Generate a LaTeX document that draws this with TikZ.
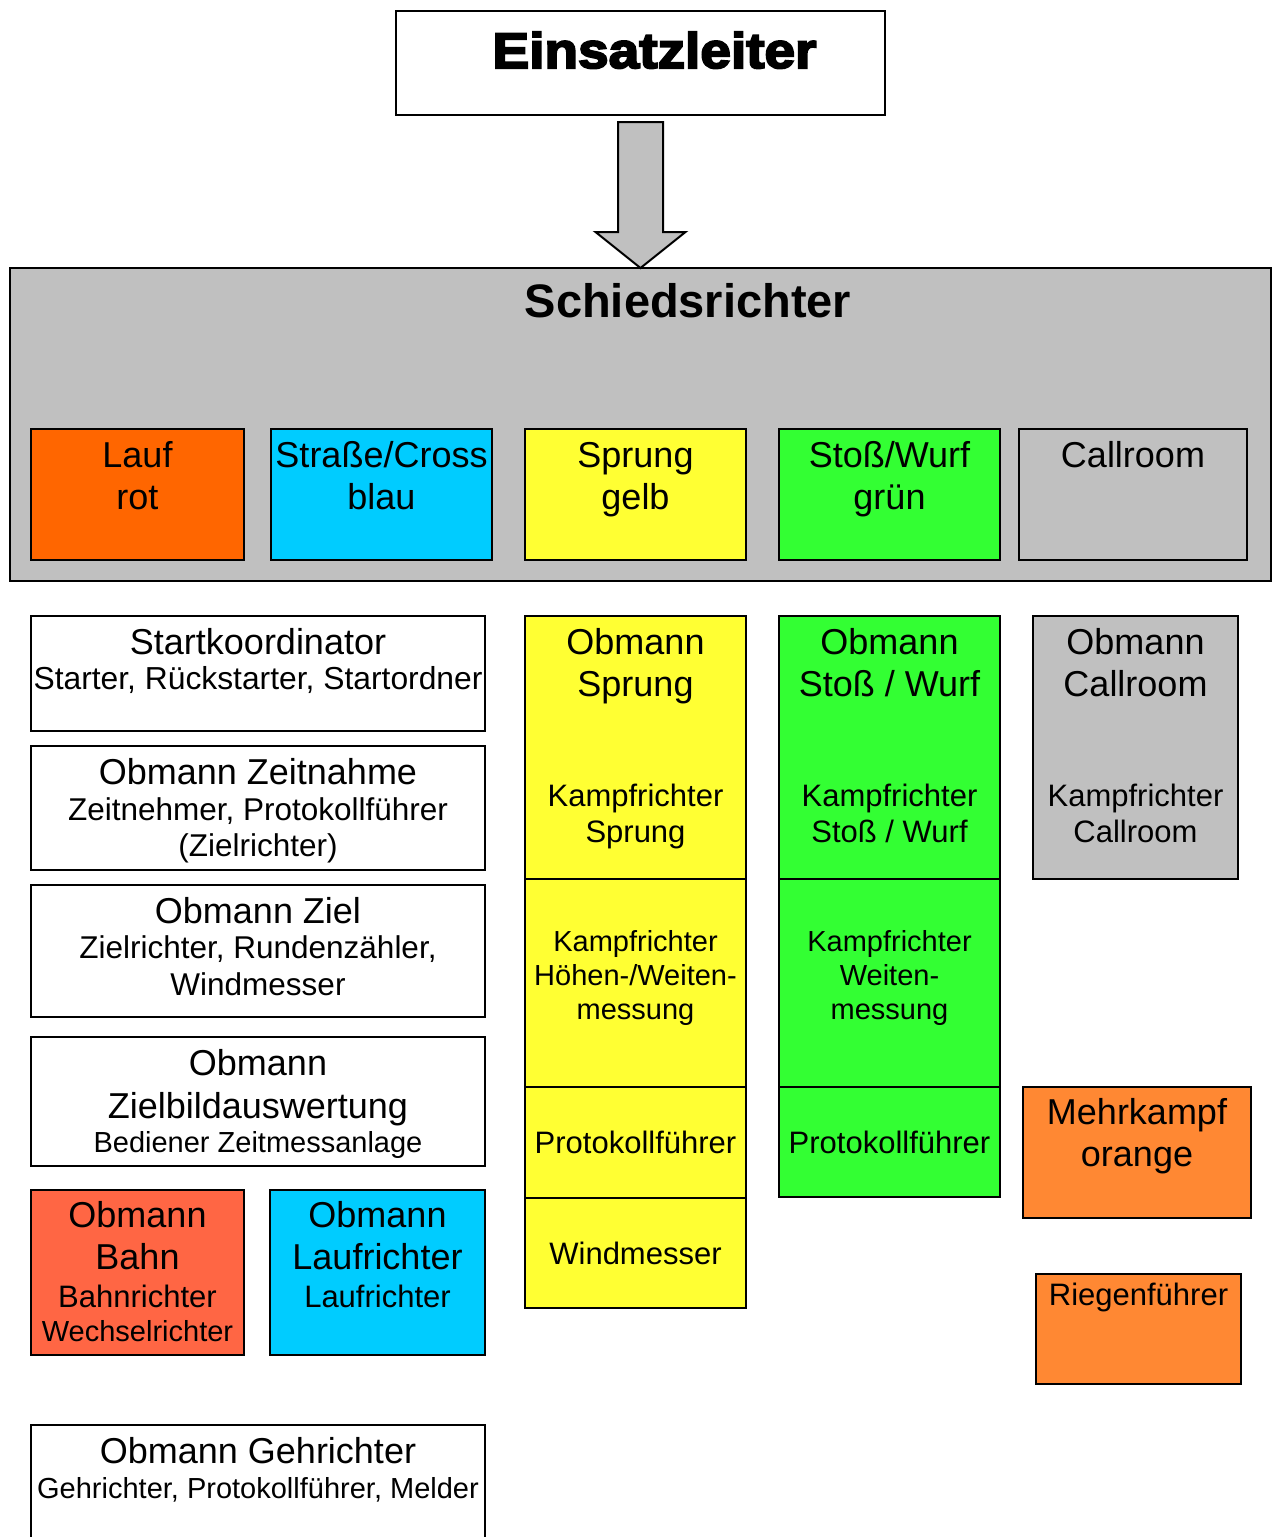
\documentclass[tikz,border=0pt]{standalone}
\usepackage{fontspec}
\setmainfont{Liberation Sans}
\newfontfamily\heavyfont[FakeBold=4,FakeStretch=1.1]{Liberation Sans Bold}
\usepackage{tikz}
\definecolor{grau}{HTML}{C0C0C0}
\definecolor{rot}{HTML}{FF6600}
\definecolor{blau}{HTML}{00CCFF}
\definecolor{gelb}{HTML}{FFFF33}
\definecolor{gruen}{HTML}{33FF33}
\definecolor{bahnrot}{HTML}{FF6644}
\definecolor{mkorange}{HTML}{FF8833}
\tikzstyle{box} = [rectangle, anchor=north west, inner sep=0pt, outer sep=0pt, draw=black, line width=2pt]
\tikzstyle{head} = [anchor=base, align=center, inner sep=0pt, font=\fontsize{36}{42}\selectfont]
\tikzstyle{mid} = [anchor=base, align=center, inner sep=0pt, font=\fontsize{31}{36}\selectfont]
\tikzstyle{sub} = [anchor=base, align=center, inner sep=0pt, font=\fontsize{29}{34}\selectfont]
\tikzstyle{blockarrow} = [draw=black, line width=2pt, fill=grau, line join=miter]

\begin{document}
\begin{tikzpicture}[x=1pt,y=-1pt]
\useasboundingbox (0,0) rectangle (1274,1537);
\node (einsatz) [box, fill=white, minimum width=489pt, minimum height=104pt] at (396,11) {};
\node (schied) [box, fill=grau, minimum width=1261pt, minimum height=313pt] at (10,268) {};
\node (lauf) [box, fill=rot, minimum width=213pt, minimum height=131pt] at (31,429) {};
\node (strasse) [box, fill=blau, minimum width=221pt, minimum height=131pt] at (271,429) {};
\node (sprung) [box, fill=gelb, minimum width=221pt, minimum height=131pt] at (525,429) {};
\node (stoss) [box, fill=gruen, minimum width=221pt, minimum height=131pt] at (779,429) {};
\node (callroom) [box, fill=grau, minimum width=228pt, minimum height=131pt] at (1019,429) {};

\node (start) [box, fill=white, minimum width=454pt, minimum height=115pt] at (31,616) {};
\node (zeitnahme) [box, fill=white, minimum width=454pt, minimum height=124pt] at (31,746) {};
\node (ziel) [box, fill=white, minimum width=454pt, minimum height=132pt] at (31,885) {};
\node (zielbild) [box, fill=white, minimum width=454pt, minimum height=129pt] at (31,1037) {};
\node (bahn) [box, fill=bahnrot, minimum width=213pt, minimum height=165pt] at (31,1190) {};
\node (laufri) [box, fill=blau, minimum width=215pt, minimum height=165pt] at (270,1190) {};
\node (geh) [box, fill=white, minimum width=454pt, minimum height=130pt] at (31,1425) {};

\node (obSprung) [box, fill=gelb, minimum width=221pt, minimum height=263pt] at (525,616) {};
\node (hwSprung) [box, fill=gelb, minimum width=221pt, minimum height=208pt] at (525,879) {};
\node (protSprung) [box, fill=gelb, minimum width=221pt, minimum height=111pt] at (525,1087) {};
\node (windSprung) [box, fill=gelb, minimum width=221pt, minimum height=110pt] at (525,1198) {};
\node (obStoss) [box, fill=gruen, minimum width=221pt, minimum height=263pt] at (779,616) {};
\node (wStoss) [box, fill=gruen, minimum width=221pt, minimum height=208pt] at (779,879) {};
\node (protStoss) [box, fill=gruen, minimum width=221pt, minimum height=110pt] at (779,1087) {};
\node (obCall) [box, fill=grau, minimum width=205pt, minimum height=263pt] at (1033,616) {};
\node (mehrkampf) [box, fill=mkorange, minimum width=228pt, minimum height=131pt] at (1023,1087) {};
\node (riegen) [box, fill=mkorange, minimum width=205pt, minimum height=110pt] at (1036,1274) {};

\node (einsatzT) [anchor=base, inner sep=0pt, font=\heavyfont\fontsize{50}{56}\selectfont] at ([xshift=14pt,yshift=-57pt]einsatz.north) {Einsatzleiter};
\node (schiedT) [anchor=base, inner sep=0pt, font=\bfseries\fontsize{47}{54}\selectfont] at ([xshift=47.5pt,yshift=-49pt]schied.north) {Schiedsrichter};
\node (laufT) [head] at ([yshift=-80pt]lauf.north) {Lauf\\rot};
\node (strasseT) [head] at ([yshift=-80pt]strasse.north) {Straße/Cross\\blau};
\node (sprungT) [head] at ([yshift=-80pt]sprung.north) {Sprung\\gelb};
\node (stossT) [head] at ([yshift=-80pt]stoss.north) {Stoß/Wurf\\grün};
\node (callroomT) [head] at ([yshift=-38pt]callroom.north) {Callroom};

\node (startT) [head] at ([yshift=-38pt]start.north) {Startkoordinator};
\node (startS) [mid, font=\fontsize{31.8}{36}\selectfont] at ([yshift=-73pt]start.north) {Starter, Rückstarter, Startordner};
\node (zeitnahmeT) [head] at ([yshift=-38pt]zeitnahme.north) {Obmann Zeitnahme};
\node (zeitnahmeS) [sub, font=\fontsize{31.5}{36}\selectfont] at ([yshift=-110pt]zeitnahme.north) {Zeitnehmer, Protokollführer\\(Zielrichter)};
\node (zielT) [head] at ([yshift=-38pt]ziel.north) {Obmann Ziel};
\node (zielS) [sub, font=\fontsize{31.5}{37}\selectfont] at ([yshift=-110pt]ziel.north) {Zielrichter, Rundenzähler,\\Windmesser};
\node (zielbildT) [head, font=\fontsize{36}{43}\selectfont] at ([yshift=-81pt]zielbild.north) {Obmann\\Zielbildauswertung};
\node (zielbildS) [sub] at ([yshift=-115pt]zielbild.north) {Bediener Zeitmessanlage};
\node (bahnT) [head] at ([yshift=-79pt]bahn.north) {Obmann\\Bahn};
\node (bahnS) [sub] at ([yshift=-151pt]bahn.north) {{\fontsize{31}{34}\selectfont Bahnrichter}\\Wechselrichter};
\node (laufriT) [head] at ([yshift=-79pt]laufri.north) {Obmann\\Laufrichter};
\node (laufriS) [mid] at ([yshift=-117pt]laufri.north) {Laufrichter};
\node (gehT) [head] at ([yshift=-38pt]geh.north) {Obmann Gehrichter};
\node (gehS) [sub] at ([yshift=-73pt]geh.north) {Gehrichter, Protokollführer, Melder};

\node (obSprungT) [head] at ([yshift=-80pt]obSprung.north) {Obmann\\Sprung};
\node (obSprungS) [mid] at ([yshift=-226pt]obSprung.north) {Kampfrichter\\Sprung};
\node (hwSprungT) [sub] at ([yshift=-140pt]hwSprung.north) {Kampfrichter\\Höhen-/Weiten-\\messung};
\node (protSprungT) [mid] at ([yshift=-66pt]protSprung.north) {Protokollführer};
\node (windSprungT) [mid] at ([yshift=-66pt]windSprung.north) {Windmesser};
\node (obStossT) [head] at ([yshift=-80pt]obStoss.north) {Obmann\\Stoß / Wurf};
\node (obStossS) [mid] at ([yshift=-226pt]obStoss.north) {Kampfrichter\\Stoß / Wurf};
\node (wStossT) [sub] at ([yshift=-140pt]wStoss.north) {Kampfrichter\\Weiten-\\messung};
\node (protStossT) [mid] at ([yshift=-66pt]protStoss.north) {Protokollführer};
\node (obCallT) [head] at ([yshift=-80pt]obCall.north) {Obmann\\Callroom};
\node (obCallS) [mid] at ([yshift=-226pt]obCall.north) {Kampfrichter\\Callroom};
\node (mehrkampfT) [head] at ([yshift=-79pt]mehrkampf.north) {Mehrkampf\\orange};
\node (riegenT) [mid] at ([yshift=-31pt]riegen.north) {Riegenführer};

\draw [blockarrow] (einsatz.south) ++(-22.5,7) -- ++(0,110) -- ++(-22.5,0) -- (schied.north) -- ++(45,-36) -- ++(-22.5,0) -- ++(0,-110) -- cycle;
\end{tikzpicture}
\end{document}
